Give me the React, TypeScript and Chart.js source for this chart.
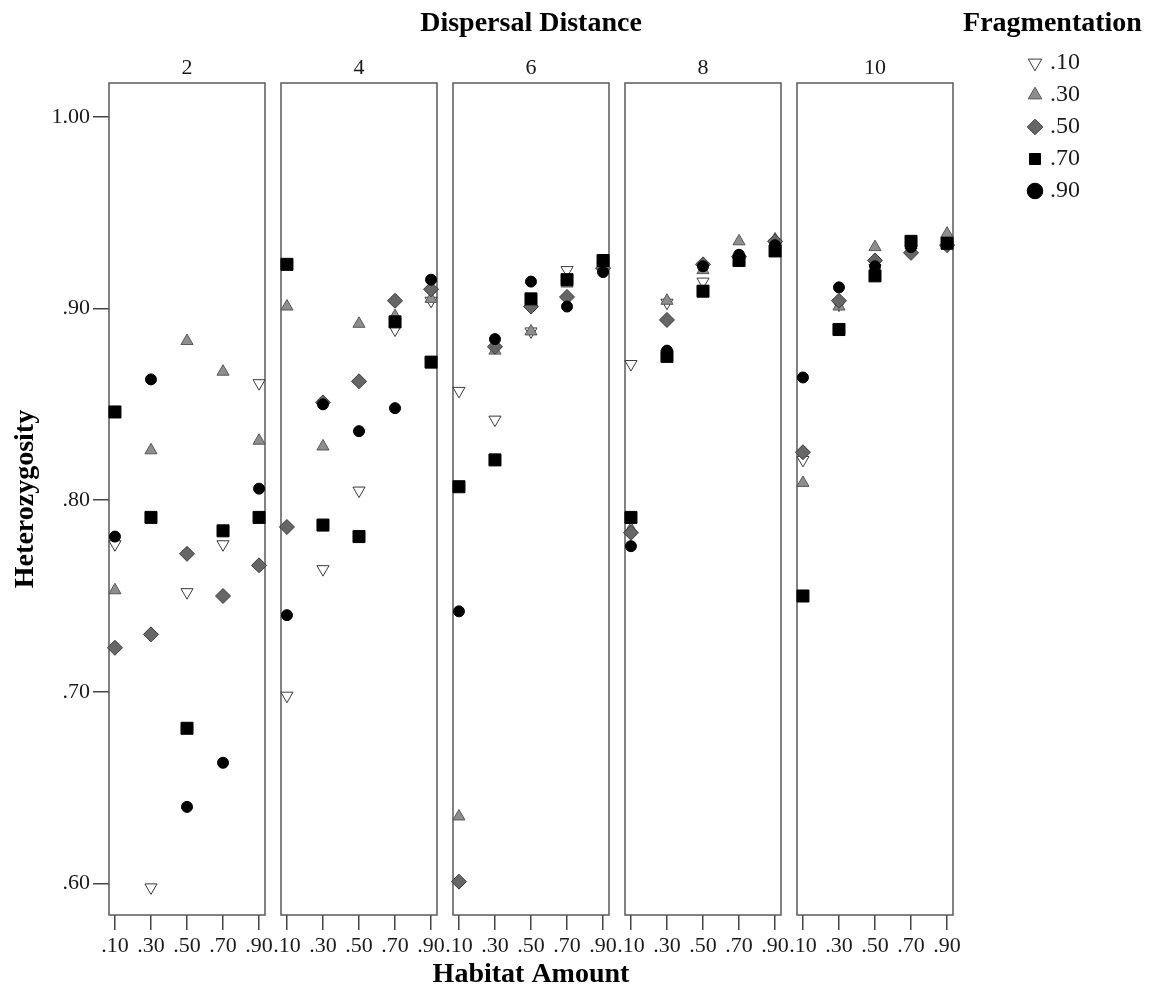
import React, { useEffect, useRef } from 'react';
import { Chart, registerables } from 'chart.js';

Chart.register(...registerables);

// ---------- data ----------
const dispersalDistances = ['2', '4', '6', '8', '10'];
const habitatAmounts = [0.1, 0.3, 0.5, 0.7, 0.9];
const yTickValues = [0.6, 0.7, 0.8, 0.9, 1.0];
const fragmentationLabels = ['.10', '.30', '.50', '.70', '.90'];

// rows: dispersal distance 2, 4, 6, 8, 10 ; columns: habitat amount .10 .30 .50 .70 .90
const frag10 = [
  [0.777, 0.598, 0.752, 0.777, 0.861],
  [0.698, 0.764, 0.805, 0.889, 0.904],
  [0.857, 0.842, 0.888, 0.92, 0.922],
  [0.871, 0.903, 0.914, 0.926, 0.934],
  [0.821, 0.902, 0.921, 0.931, 0.935],
];
const frag30 = [
  [0.753, 0.826, 0.883, 0.867, 0.831],
  [0.901, 0.828, 0.892, 0.896, 0.905],
  [0.635, 0.878, 0.888, 0.913, 0.923],
  [0.785, 0.904, 0.92, 0.935, 0.936],
  [0.809, 0.901, 0.932, 0.933, 0.939],
];
const frag50 = [
  [0.723, 0.73, 0.772, 0.75, 0.766],
  [0.786, 0.851, 0.862, 0.904, 0.91],
  [0.601, 0.88, 0.901, 0.906, 0.921],
  [0.783, 0.894, 0.923, 0.927, 0.935],
  [0.825, 0.904, 0.925, 0.929, 0.933],
];
const frag70 = [
  [0.846, 0.791, 0.681, 0.784, 0.791],
  [0.923, 0.787, 0.781, 0.893, 0.872],
  [0.807, 0.821, 0.905, 0.915, 0.925],
  [0.791, 0.875, 0.909, 0.925, 0.93],
  [0.75, 0.889, 0.917, 0.935, 0.934],
];
const frag90 = [
  [0.781, 0.863, 0.64, 0.663, 0.806],
  [0.74, 0.85, 0.836, 0.848, 0.915],
  [0.742, 0.884, 0.914, 0.901, 0.919],
  [0.776, 0.878, 0.922, 0.928, 0.933],
  [0.864, 0.911, 0.922, 0.932, 0.934],
];
const seriesData = [frag10, frag30, frag50, frag70, frag90];

// ---------- styles ----------
const seriesStyles = [
  { pointStyle: 'triangle', rotation: 180, radius: 7, bg: '#ffffff', border: '#3a3a3a' },
  { pointStyle: 'triangle', rotation: 0, radius: 7, bg: '#8e8e8e', border: '#585858' },
  { pointStyle: 'rectRot', rotation: 0, radius: 7.5, bg: '#666666', border: '#3c3c3c' },
  { pointStyle: 'rect', rotation: 0, radius: 8.5, bg: '#000000', border: '#000000' },
  { pointStyle: 'circle', rotation: 0, radius: 5.5, bg: '#000000', border: '#000000' },
];

const FONT = "'Liberation Serif', 'Times New Roman', serif";
const PAGE_W = 1160;
const PAGE_H = 989;
const PANEL_LEFT0 = 109;
const PANEL_STEP = 172;
const PANEL_W = 156;
const SIDE = 20;
const WIDE_SIDE = 125;
const X_MIN = 0.067;
const X_MAX = 0.933;
const Y_MIN = 0.5836;
const Y_MAX = 1.0176;
const TEXT = '#1a1a1a';

const fmt = (v: number) => {
  const s = v.toFixed(2);
  return s.startsWith('0') ? s.slice(1) : s;
};

const framePlugin = {
  id: 'panelFrame',
  beforeDatasetsDraw(chart: any) {
    const { ctx, chartArea: a } = chart;
    ctx.save();
    ctx.strokeStyle = '#5a5a5a';
    ctx.lineWidth = 1.5;
    ctx.strokeRect(a.left, a.top, a.right - a.left, a.bottom - a.top);
    ctx.restore();
  },
};

function panelGeom(i: number) {
  const panelLeft = PANEL_LEFT0 + i * PANEL_STEP;
  if (i === 0) {
    return { left: 0, width: panelLeft + PANEL_W + SIDE, padL: panelLeft, padR: SIDE };
  }
  const side = i === 2 ? WIDE_SIDE : SIDE;
  return { left: panelLeft - side, width: PANEL_W + 2 * side, padL: side, padR: side };
}

function makeDatasets(panel: number | null) {
  return fragmentationLabels.map((label, s) => {
    const st = seriesStyles[s];
    return {
      label,
      data:
        panel === null
          ? []
          : habitatAmounts.map((x, j) => ({ x, y: seriesData[s][panel][j] })),
      // later fragmentation levels are drawn on top
      order: panel === null ? 0 : fragmentationLabels.length - s,
      pointStyle: st.pointStyle,
      pointRotation: st.rotation,
      pointRadius: st.radius,
      pointHoverRadius: st.radius,
      pointBackgroundColor: st.bg,
      pointBorderColor: st.border,
      pointBorderWidth: 1,
      backgroundColor: st.bg,
      borderColor: st.border,
      showLine: false,
      clip: false,
    };
  });
}

function panelConfig(i: number): any {
  const g = panelGeom(i);
  const center = i === 2;
  return {
    type: 'scatter',
    data: { datasets: makeDatasets(i) },
    plugins: [framePlugin],
    options: {
      responsive: false,
      animation: false,
      events: [],
      layout: {
        padding: { left: 0, right: 0, top: center ? 0 : 40.8, bottom: center ? 0 : 30 },
      },
      scales: {
        x: {
          type: 'linear',
          position: 'bottom',
          min: X_MIN,
          max: X_MAX,
          afterBuildTicks: (s: any) => {
            s.ticks = habitatAmounts.map((v) => ({ value: v }));
          },
          afterFit: (s: any) => {
            s.height = 44;
          },
          grid: {
            display: true,
            drawOnChartArea: false,
            drawTicks: true,
            tickLength: 15,
            color: '#444444',
            lineWidth: 1.5,
          },
          border: { display: false },
          ticks: {
            font: { size: 22, family: FONT },
            color: TEXT,
            padding: 3,
            maxRotation: 0,
            minRotation: 0,
            autoSkip: false,
            callback: (v: any) => fmt(Number(v)),
          },
        },
        xTop: {
          axis: 'x',
          type: 'linear',
          position: 'top',
          min: X_MIN,
          max: X_MAX,
          afterBuildTicks: (s: any) => {
            s.ticks = [{ value: (X_MIN + X_MAX) / 2 }];
          },
          afterFit: (s: any) => {
            s.height = 42.2;
          },
          grid: { display: false, drawTicks: false },
          border: { display: false },
          ticks: {
            font: { size: 22, family: FONT },
            color: TEXT,
            padding: 1.8,
            maxRotation: 0,
            autoSkip: false,
            callback: () => dispersalDistances[i],
          },
        },
        y: {
          type: 'linear',
          position: 'left',
          min: Y_MIN,
          max: Y_MAX,
          afterBuildTicks: (s: any) => {
            s.ticks = yTickValues.map((v) => ({ value: v }));
          },
          afterFit: (s: any) => {
            s.width = g.padL;
          },
          grid: {
            display: i === 0,
            drawOnChartArea: false,
            drawTicks: i === 0,
            tickLength: 16,
            color: '#444444',
            lineWidth: 1.5,
          },
          border: { display: false },
          ticks: {
            display: i === 0,
            font: { size: 22, family: FONT },
            color: TEXT,
            padding: 3,
            callback: (v: any) => fmt(Number(v)),
          },
          title: {
            display: i === 0,
            text: 'Heterozygosity',
            font: { size: 28, weight: 'bold', family: FONT },
            color: '#000000',
            padding: { top: 9.2, bottom: 0 },
          },
        },
        yR: {
          axis: 'y',
          type: 'linear',
          position: 'right',
          min: 0,
          max: 1,
          afterFit: (s: any) => {
            s.width = g.padR;
          },
          grid: { display: false, drawTicks: false },
          border: { display: false },
          ticks: { display: false },
        },
      },
      plugins: {
        legend: { display: false },
        tooltip: { enabled: false },
        title: center
          ? {
              display: true,
              text: 'Dispersal Distance',
              fullSize: true,
              font: { size: 28, weight: 'bold', lineHeight: 1.2, family: FONT },
              color: '#000000',
              padding: { top: 7.2, bottom: 0 },
            }
          : { display: false },
        subtitle: center
          ? {
              display: true,
              position: 'bottom',
              text: 'Habitat Amount',
              fullSize: true,
              font: { size: 28, weight: 'bold', lineHeight: 1, family: FONT },
              color: '#000000',
              padding: { top: 2, bottom: 0 },
            }
          : { display: false },
      },
    },
  };
}

// legend canvas: centred on the legend title
const LEGEND_LEFT = 945;
const LEGEND_W = 215;
const LEGEND_H = 240;
const LEGEND_SPACER = 79;

function legendConfig(): any {
  return {
    type: 'scatter',
    data: { datasets: makeDatasets(null) },
    options: {
      responsive: false,
      animation: false,
      events: [],
      layout: { padding: 0 },
      scales: {
        x: { display: false, min: 0, max: 1 },
        y: { display: false, min: 0, max: 1 },
        spacer: {
          axis: 'y',
          type: 'linear',
          position: 'left',
          weight: 2000,
          min: 0,
          max: 1,
          afterFit: (s: any) => {
            s.width = LEGEND_SPACER;
          },
          grid: { display: false, drawTicks: false },
          border: { display: false },
          ticks: { display: false },
        },
      },
      plugins: {
        tooltip: { enabled: false },
        title: {
          display: true,
          text: 'Fragmentation',
          fullSize: true,
          color: '#000000',
          font: { size: 28, weight: 'bold', lineHeight: 1.2, family: FONT },
          padding: { top: 7.2, bottom: 2.2 },
        },
        legend: {
          display: true,
          position: 'left',
          align: 'start',
          fullSize: false,
          maxWidth: 120,
          labels: {
            usePointStyle: true,
            pointStyleWidth: undefined,
            boxWidth: 6,
            boxHeight: 11,
            padding: 8,
            color: TEXT,
            font: { size: 24, family: FONT },
          },
        },
      },
    },
  };
}

export default function App() {
  const panelRefs = useRef<(HTMLCanvasElement | null)[]>([]);
  const legendRef = useRef<HTMLCanvasElement | null>(null);

  useEffect(() => {
    Chart.defaults.font.family = FONT;
    Chart.defaults.color = TEXT;
    const charts: Chart[] = [];
    dispersalDistances.forEach((_, i) => {
      const c = panelRefs.current[i];
      if (c) charts.push(new Chart(c, panelConfig(i)));
    });
    if (legendRef.current) charts.push(new Chart(legendRef.current, legendConfig()));
    return () => {
      charts.forEach((c) => c.destroy());
    };
  }, []);

  return (
    <div
      style={{
        position: 'absolute',
        left: 0,
        top: 0,
        width: PAGE_W,
        height: PAGE_H,
        background: '#ffffff',
        overflow: 'hidden',
      }}
    >
      {dispersalDistances.map((d, i) => {
        const g = panelGeom(i);
        return (
          <canvas
            key={d}
            ref={(el) => {
              panelRefs.current[i] = el;
            }}
            width={g.width}
            height={PAGE_H}
            style={{ position: 'absolute', left: g.left, top: 0, width: g.width, height: PAGE_H }}
          />
        );
      })}
      <canvas
        ref={legendRef}
        width={LEGEND_W}
        height={LEGEND_H}
        style={{ position: 'absolute', left: LEGEND_LEFT, top: 0, width: LEGEND_W, height: LEGEND_H }}
      />
    </div>
  );
}
